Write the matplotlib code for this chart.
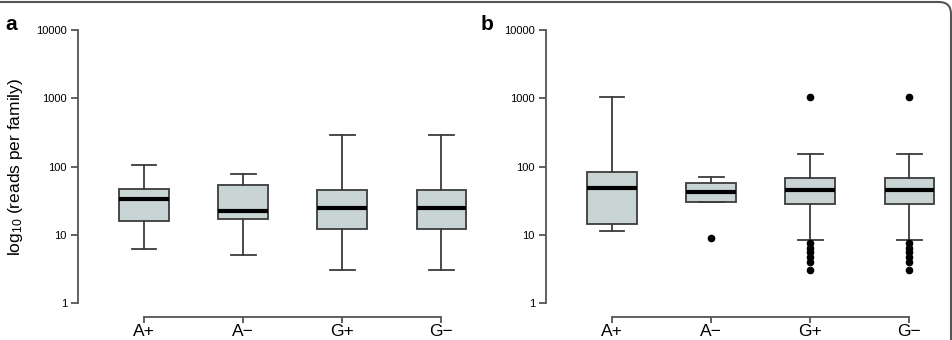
import matplotlib
matplotlib.use("Agg")
import matplotlib.pyplot as plt
from matplotlib.patches import FancyBboxPatch

plt.rcParams['font.family'] = ['Liberation Sans', 'DejaVu Sans']
plt.rcParams['mathtext.fontset'] = 'custom'
plt.rcParams['mathtext.rm'] = 'Liberation Sans'
plt.rcParams['mathtext.it'] = 'Liberation Sans'

categories = ['A+', 'A\u2212', 'G+', 'G\u2212']

# panel a: (whislo, q1, med, q3, whishi)
a_whislo = [6.2, 5.1, 3, 3]
a_q1 = [16, 17, 12.3, 12.3]
a_med = [33, 22, 24.5, 24.5]
a_q3 = [47, 54, 45, 45]
a_whishi = [105, 78, 286, 286]
a_fliers = [[], [], [], []]

# panel b
b_whislo = [11.4, 30.5, 8.3, 8.3]
b_q1 = [14.2, 30.5, 28.5, 28.5]
b_med = [48, 43, 46, 46]
b_q3 = [84, 57, 67, 67]
b_whishi = [1030, 70, 150, 150]
b_fliers = [[], [9],
            [1030, 7.5, 6.5, 5.5, 4.7, 4, 3],
            [1030, 7.5, 6.5, 5.5, 4.7, 4, 3]]

W, H = 953, 340
fig = plt.figure(figsize=(W / 100, H / 100), dpi=100)

# rounded frame round the figure (display pixels, origin bottom-left);
# only the top and right edges fall inside the picture
fig.patches.append(FancyBboxPatch((-30, -30), 951 + 30, H - 2 + 30,
                                  boxstyle="round,pad=0,rounding_size=12",
                                  transform=None, fill=False,
                                  edgecolor='#555555', linewidth=1.5))

box_fill = '#c9d4d4'
edge = '#3c3c3c'


def make_stats(lo, q1, med, q3, hi, fl):
    return [dict(whislo=lo[i], q1=q1[i], med=med[i], q3=q3[i], whishi=hi[i],
                 fliers=fl[i], label=categories[i]) for i in range(len(categories))]


def draw_panel(ax, stats):
    ax.bxp(stats, positions=[1, 2, 3, 4], widths=0.5, patch_artist=True,
           boxprops=dict(facecolor=box_fill, edgecolor=edge, linewidth=1.3),
           whiskerprops=dict(color=edge, linewidth=1.3),
           capprops=dict(color=edge, linewidth=1.3),
           medianprops=dict(color='black', linewidth=3),
           flierprops=dict(marker='o', markerfacecolor='black',
                           markeredgecolor='black', markersize=4.5))
    ax.set_yscale('log')
    ax.set_ylim(1, 10000)
    ax.set_xlim(0.333, 4.35)
    ax.set_yticks([1, 10, 100, 1000, 10000])
    ax.set_yticklabels(['1', '10', '100', '1000', '10000'])
    ax.yaxis.set_minor_locator(matplotlib.ticker.NullLocator())
    for s in ['top', 'right']:
        ax.spines[s].set_visible(False)
    ax.spines['bottom'].set_position(('outward', 10))
    ax.spines['bottom'].set_bounds(1, 4)
    ax.spines['left'].set_bounds(1, 10000)
    for s in ['left', 'bottom']:
        ax.spines[s].set_color('#555555')
        ax.spines[s].set_linewidth(1.3)
    ax.tick_params(axis='y', direction='out', length=5, width=1.3,
                   color='#555555', labelsize=8, pad=3)
    ax.tick_params(axis='x', direction='out', length=4, width=1.3,
                   color='#555555', labelsize=12.5, pad=1)
    ax.patch.set_alpha(0)


ax_w = 398 / W
ax_h = 273 / H
ax_b = 1 - 303 / H
ax1 = fig.add_axes([78 / W, ax_b, ax_w, ax_h])
ax2 = fig.add_axes([546 / W, ax_b, ax_w, ax_h])

draw_panel(ax1, make_stats(a_whislo, a_q1, a_med, a_q3, a_whishi, a_fliers))
draw_panel(ax2, make_stats(b_whislo, b_q1, b_med, b_q3, b_whishi, b_fliers))

ax1.set_ylabel(r'log$_{10}$ (reads per family)', fontsize=12.5, labelpad=8)

fig.text(5 / W, 1 - 30 / H, 'a', fontsize=15, fontweight='bold')
fig.text(481 / W, 1 - 30 / H, 'b', fontsize=15, fontweight='bold')

fig.savefig('out.png', dpi=100)
